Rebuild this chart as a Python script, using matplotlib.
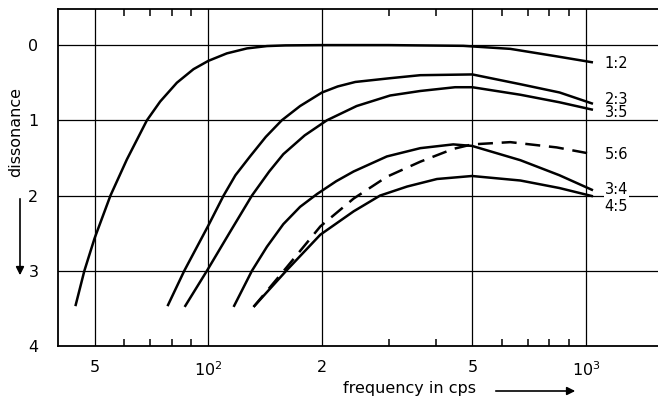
import matplotlib
matplotlib.use("Agg")
import matplotlib.pyplot as plt
from matplotlib.patches import FancyArrowPatch
from matplotlib.ticker import FixedLocator, NullFormatter

plt.rcParams['font.family'] = ['DejaVu Sans']

# ---- data (frequency in cps, dissonance) ----
x_12 = [44.5, 47.0, 50, 55.1, 60.9, 68.8, 74.6, 82.6, 91.4, 100, 112, 126.6, 143, 160,
        200, 300, 473, 630, 837, 1043]
y_12 = [3.47, 3.0, 2.57, 2.0, 1.52, 1.0, 0.75, 0.50, 0.32, 0.21, 0.11, 0.044, 0.013, 0.004,
        0.0, 0.0, 0.01, 0.05, 0.15, 0.23]

x_23 = [78, 86.4, 100, 109.8, 118, 129, 142, 156.5, 175, 200, 220, 245, 303, 364, 500, 670, 851, 1043]
y_23 = [3.47, 3.0, 2.40, 2.0, 1.73, 1.48, 1.22, 1.0, 0.81, 0.63, 0.55, 0.49, 0.44, 0.40, 0.39, 0.52, 0.63, 0.78]

x_35 = [86.6, 99.2, 114, 130.5, 145, 158, 180, 206, 247, 303, 364, 450, 500, 670, 850, 1043]
y_35 = [3.48, 3.0, 2.49, 2.0, 1.68, 1.45, 1.20, 1.0, 0.81, 0.67, 0.61, 0.56, 0.56, 0.66, 0.76, 0.86]

x_34 = [116.7, 130.5, 143, 158, 175, 194, 218, 242.5, 297, 364, 445, 499, 670, 850, 1043]
y_34 = [3.48, 3.0, 2.68, 2.38, 2.15, 1.98, 1.81, 1.68, 1.48, 1.37, 1.32, 1.34, 1.53, 1.73, 1.93]

x_45 = [131.8, 161.5, 198, 242.5, 285, 336, 403, 499, 670, 850, 1043]
y_45 = [3.48, 2.99, 2.52, 2.21, 2.0, 1.88, 1.78, 1.74, 1.80, 1.90, 2.01]

x_56 = [131.8, 161.5, 198, 242.5, 297, 364, 445, 499, 630, 836, 1043]
y_56 = [3.48, 2.95, 2.41, 2.04, 1.75, 1.55, 1.38, 1.32, 1.29, 1.36, 1.45]

curve_labels = ["1:2", "2:3", "3:5", "5:6", "3:4", "4:5"]
label_y = [0.24, 0.72, 0.90, 1.45, 1.92, 2.15]

grid_x = [50, 100, 200, 500, 1000]
grid_x_labels = ["5", "10$^2$", "2", "5", "10$^3$"]
minor_x = [60, 70, 80, 90, 300, 400, 600, 700, 800, 900]
y_ticks = [0, 1, 2, 3, 4]

fig = plt.figure(figsize=(6.58, 4.03), dpi=100)
ax = fig.add_axes([0.088, 0.1414, 0.912, 0.8363])
ax.set_xscale('log')
ax.set_xlim(40, 1550)
ax.set_ylim(4, -0.48)

lw = 1.8
for xs, ys in [(x_12, y_12), (x_23, y_23), (x_35, y_35), (x_34, y_34), (x_45, y_45)]:
    ax.plot(xs, ys, color='black', lw=lw, solid_capstyle='butt',
            solid_joinstyle='round', zorder=3)
ax.plot(x_56, y_56, color='black', lw=lw, dashes=(6, 3.5), zorder=3)

for lab, yy in zip(curve_labels, label_y):
    kw = {}
    if lab in ("3:4", "4:5"):
        kw['bbox'] = dict(facecolor='white', edgecolor='none', pad=0.5)
    ax.text(1120, yy, lab, fontsize=10.5, va='center', ha='left', zorder=4, **kw)

# grid
for gx in grid_x:
    ax.axvline(gx, color='black', lw=0.9, zorder=1)
for gy in [0, 1, 2, 3]:
    ax.axhline(gy, color='black', lw=0.9, zorder=1)

ax.xaxis.set_major_locator(FixedLocator(grid_x))
ax.set_xticklabels(grid_x_labels)
ax.xaxis.set_minor_locator(FixedLocator(minor_x))
ax.xaxis.set_minor_formatter(NullFormatter())
ax.tick_params(axis='x', which='major', length=0, pad=10, labelsize=11.5)
ax.tick_params(axis='x', which='minor', direction='in', length=5, width=1.1,
               top=True, bottom=True)
ax.set_yticks(y_ticks)
ax.tick_params(axis='y', which='major', length=0, pad=14, labelsize=11.5)

for s in ['left', 'bottom', 'top']:
    ax.spines[s].set_linewidth(1.3)
ax.spines['right'].set_visible(False)

# axis labels with arrows
fig.text(343 / 658, 1 - 388 / 403, "frequency in cps", fontsize=11.5,
         ha='left', va='center')
fig.add_artist(FancyArrowPatch(
    (493 / 658, 1 - 391 / 403), (578 / 658, 1 - 391 / 403),
    transform=fig.transFigure, arrowstyle='-|>', mutation_scale=12,
    color='black', lw=1.2))
fig.text(16 / 658, 1 - 132 / 403, "dissonance", fontsize=11.5, rotation=90,
         ha='center', va='center')
fig.add_artist(FancyArrowPatch(
    (20 / 658, 1 - 196 / 403), (20 / 658, 1 - 278 / 403),
    transform=fig.transFigure, arrowstyle='-|>', mutation_scale=12,
    color='black', lw=1.2))

fig.savefig("out.png", dpi=100)
